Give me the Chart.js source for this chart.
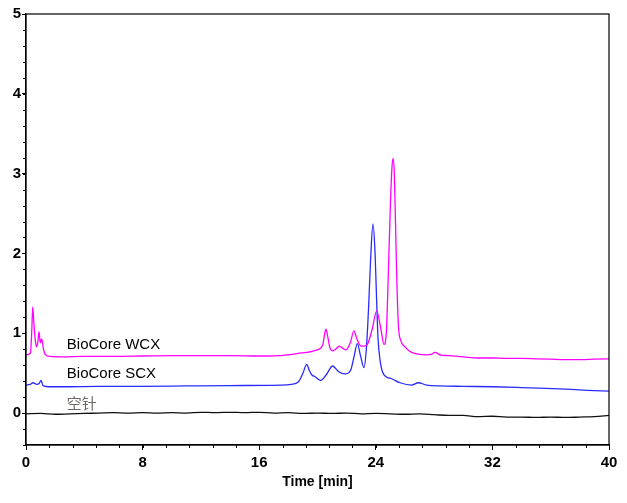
<!DOCTYPE html>
<html lang="zh">
<head>
    <meta charset="UTF-8">
    <title>BioCore WCX / SCX</title>
    <script src="https://cdn.jsdelivr.net/npm/chart.js"></script>
    <style>
        body {
            margin: 0;
            background: #ffffff;
        }
        .wrap {
            width: 627px;
            height: 503px;
        }
    </style>
</head>
<body>
    <div class="wrap">
        <canvas id="chromChart" width="627" height="503"></canvas>
    </div>

    <script>
        // series names, as written next to each trace
        const seriesNames = ["BioCore WCX", "BioCore SCX", "空针"];

        // BioCore WCX (magenta)
        const wcxTime = [0, 0.3, 0.4, 0.46, 0.55, 0.66, 0.73, 0.82, 0.89, 0.98, 1.08, 1.2, 1.3, 1.65, 2.5, 4, 6, 8, 10, 12, 14, 16, 17.4, 18.6, 19.94,
            20.35, 20.5, 20.58, 20.68, 20.85, 21.04, 21.25, 21.5, 21.75, 21.95, 22.25, 22.5, 22.7, 22.98, 23.2, 23.42, 23.75, 24.06, 24.35,
            24.56, 24.72, 24.86, 25.0, 25.1, 25.18, 25.27, 25.35, 25.43, 25.55, 25.71, 26.0, 26.46, 27.0, 27.49, 27.8, 28.06, 28.4, 29, 30,
            31, 32, 33, 34, 35, 36, 37, 38, 39, 40];
        const wcxValues = [0.73, 0.75, 1.05, 1.33, 1.1, 0.88, 0.83, 0.9, 1.02, 0.88, 0.93, 0.8, 0.74, 0.71, 0.705, 0.71, 0.71, 0.715, 0.72, 0.72, 0.72, 0.715, 0.72, 0.745, 0.79,
            0.85, 1.0, 1.05, 0.98, 0.82, 0.78, 0.8, 0.84, 0.81, 0.79, 0.88, 1.03, 0.93, 0.84, 0.84, 0.86, 1.05, 1.28, 1.05,
            0.86, 1.0, 1.75, 2.6, 3.05, 3.19, 3.0, 2.4, 1.75, 1.1, 0.91, 0.83, 0.76, 0.735, 0.73, 0.735, 0.76, 0.73, 0.72, 0.705,
            0.69, 0.69, 0.685, 0.685, 0.68, 0.675, 0.67, 0.67, 0.675, 0.68];

        // BioCore SCX (blue)
        const scxTime = [0, 0.3, 0.48, 0.73, 0.9, 1.03, 1.18, 1.6, 2.5, 5, 8, 11, 14, 17.43, 18.2, 18.68, 19.0, 19.26, 19.45, 19.6, 19.83, 20.22,
            20.6, 21.04, 21.43, 21.89, 22.28, 22.5, 22.73, 22.95, 23.19, 23.35, 23.5, 23.65, 23.81, 23.95, 24.05, 24.15, 24.3, 24.45, 24.7,
            25.09, 25.66, 26.46, 26.92, 27.49, 28.4, 30, 32, 34, 35.7, 37, 38.5, 40];
        const scxValues = [0.35, 0.36, 0.38, 0.36, 0.37, 0.41, 0.34, 0.33, 0.33, 0.335, 0.335, 0.34, 0.345, 0.35, 0.36, 0.39, 0.5, 0.61, 0.53, 0.48, 0.455, 0.41,
            0.48, 0.59, 0.52, 0.49, 0.54, 0.7, 0.87, 0.72, 0.57, 0.8, 1.3, 1.95, 2.37, 2.0, 1.45, 0.95, 0.65, 0.52, 0.455,
            0.43, 0.38, 0.35, 0.38, 0.35, 0.34, 0.335, 0.33, 0.32, 0.31, 0.3, 0.285, 0.275];

        // blank injection (black)
        const blankTime = [0, 1, 2, 3, 4, 5, 6, 7, 8, 9, 10, 11, 12, 13, 14, 15, 16, 17, 18, 19, 20, 21, 22, 23, 24, 25, 26, 27, 28, 29,
            30, 31, 32, 33, 34, 35, 36, 37, 38, 39, 40];
        const blankValues = [-0.01, -0.005, -0.015, -0.01, -0.005, 0.0, 0.005, 0.0, 0.005, 0.0, 0.005, 0.0, 0.01, 0.005, 0.01, 0.005, 0.01, 0.0, 0.005, -0.005,
            0.0, -0.005, 0.0, -0.01, -0.005, -0.01, -0.015, -0.01, -0.02, -0.03, -0.03, -0.045, -0.04, -0.05, -0.05, -0.055, -0.05, -0.055, -0.05, -0.045, -0.03];

        // axis ticks
        const xTicks = [0, 8, 16, 24, 32, 40];
        const yTicks = [0, 1, 2, 3, 4, 5];

        function pairs(xs, ys) {
            return xs.map((x, i) => ({ x: x, y: ys[i] }));
        }

        // frame, minor ticks and trace names
        const decorPlugin = {
            id: "decor",
            afterDraw(chart) {
                const ctx = chart.ctx;
                const area = chart.chartArea;
                const xs = chart.scales.x;
                const ys = chart.scales.y;
                ctx.save();
                ctx.strokeStyle = "#000";
                ctx.lineWidth = 1.2;
                ctx.strokeRect(area.left, area.top, area.right - area.left, area.bottom - area.top);

                ctx.lineWidth = 1;
                ctx.beginPath();
                for (let v = 0; v <= 40.001; v += 1.6) {
                    const px = Math.round(xs.getPixelForValue(v)) + 0.5;
                    ctx.moveTo(px, area.bottom);
                    ctx.lineTo(px, area.bottom + 3);
                }
                for (let v = -0.4; v <= 5.001; v += 0.2) {
                    const py = Math.round(ys.getPixelForValue(v)) + 0.5;
                    ctx.moveTo(area.left, py);
                    ctx.lineTo(area.left - 3, py);
                }
                ctx.stroke();

                const labelColors = ["#000000", "#000000", "#6f6a66"];
                const labelY = [0.85, 0.49, 0.1];
                ctx.font = "15px 'Liberation Sans', Arial, 'Noto Sans CJK SC', sans-serif";
                ctx.textAlign = "left";
                ctx.textBaseline = "middle";
                seriesNames.forEach((name, i) => {
                    ctx.fillStyle = labelColors[i];
                    ctx.fillText(name, xs.getPixelForValue(2.8), ys.getPixelForValue(labelY[i]));
                });
                ctx.restore();
            }
        };

        const ctx = document.getElementById("chromChart").getContext("2d");
        const chromChart = new Chart(ctx, {
            type: "line",
            data: {
                datasets: [
                    { label: seriesNames[0], data: pairs(wcxTime, wcxValues), borderColor: "#ff00ff" },
                    { label: seriesNames[1], data: pairs(scxTime, scxValues), borderColor: "#2b2bff" },
                    { label: seriesNames[2], data: pairs(blankTime, blankValues), borderColor: "#111111" }
                ]
            },
            options: {
                responsive: false,
                animation: false,
                layout: { padding: { top: 14, right: 18, left: 0, bottom: 12 } },
                elements: {
                    point: { radius: 0 },
                    line: { borderWidth: 1.3, cubicInterpolationMode: "monotone", fill: false }
                },
                plugins: {
                    legend: { display: false },
                    tooltip: { enabled: false }
                },
                scales: {
                    x: {
                        type: "linear",
                        min: 0,
                        max: 40,
                        afterBuildTicks: (scale) => { scale.ticks = xTicks.map(v => ({ value: v })); },
                        afterFit: (scale) => { scale.height = 46; },
                        grid: { drawOnChartArea: false, tickLength: 5, color: "#000" },
                        border: { color: "#000", width: 1.2 },
                        ticks: {
                            color: "#000",
                            padding: 4,
                            maxRotation: 0,
                            font: { family: "'Liberation Sans', Arial, sans-serif", size: 15, weight: "bold" }
                        },
                        title: {
                            display: true,
                            text: "Time [min]",
                            color: "#000",
                            padding: { top: 0, bottom: 0 },
                            font: { family: "'Liberation Sans', Arial, sans-serif", size: 14, weight: "bold" }
                        }
                    },
                    y: {
                        type: "linear",
                        min: -0.4,
                        max: 5,
                        afterBuildTicks: (scale) => { scale.ticks = yTicks.map(v => ({ value: v })); },
                        afterFit: (scale) => { scale.width = 26; },
                        grid: { drawOnChartArea: false, tickLength: 4, color: "#000" },
                        border: { color: "#000", width: 1.2 },
                        ticks: {
                            color: "#000",
                            padding: 1,
                            font: { family: "'Liberation Sans', Arial, sans-serif", size: 15, weight: "bold" }
                        }
                    }
                }
            },
            plugins: [decorPlugin]
        });
    </script>
</body>
</html>
